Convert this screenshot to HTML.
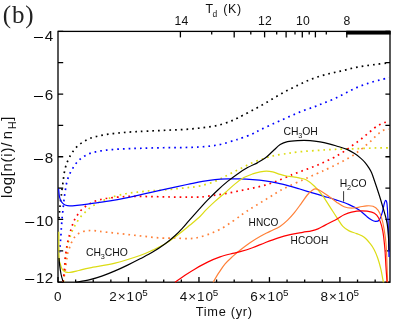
<!DOCTYPE html>
<html><head><meta charset="utf-8"><title>plot</title>
<style>
html,body{margin:0;padding:0;background:#fff;}
body{width:399px;height:323px;position:relative;overflow:hidden;font-family:"Liberation Sans",sans-serif;color:#111;}
.t{position:absolute;white-space:nowrap;line-height:1;font-size:14.5px;letter-spacing:0.3px;}
.m{display:inline-block;width:9.2px;height:1.1px;background:#000;vertical-align:0.205em;margin-right:2.1px;}
.yl{font-size:15.2px;letter-spacing:0.3px;}
#w{position:absolute;left:0;top:0;width:399px;height:323px;will-change:transform;transform:translateZ(0);}
.c{transform:translateX(-50%);}
.xl{top:289.5px;font-size:13.5px;letter-spacing:0.9px;}
.xl sup{font-size:73%;vertical-align:0.44em;margin-left:-1.1px;letter-spacing:0;}
.tl{top:15.2px;font-size:12.2px;letter-spacing:0.2px;}
.r{transform:translateX(-100%);}
.s{font-size:10.4px;letter-spacing:0;}
sub,sup{font-size:68%;line-height:0;}
sub{vertical-align:-0.28em;}
.s sub{vertical-align:-0.42em;font-size:70%;margin-left:-0.3px;}
sup{vertical-align:0.5em;}
</style></head><body><div id="w">
<svg width="399" height="323" viewBox="0 0 399 323" style="position:absolute;left:0;top:0">
<defs><clipPath id="c"><rect x="57.5" y="30.9" width="333.0" height="251.8"/></clipPath></defs>
<g stroke="#000" stroke-width="1.3" fill="none">
<rect x="58.0" y="31.4" width="332.0" height="250.8"/>
<path d="M58.0,31.35h5.2M390.0,31.35h-4.6"/>
<path d="M58.0,62.70h5.2M390.0,62.70h-4.6"/>
<path d="M58.0,94.05h5.2M390.0,94.05h-4.6"/>
<path d="M58.0,125.40h5.2M390.0,125.40h-4.6"/>
<path d="M58.0,156.75h5.2M390.0,156.75h-4.6"/>
<path d="M58.0,188.10h5.2M390.0,188.10h-4.6"/>
<path d="M58.0,219.45h5.2M390.0,219.45h-4.6"/>
<path d="M58.0,250.80h5.2M390.0,250.80h-4.6"/>
<path d="M58.0,282.15h5.2M390.0,282.15h-4.6"/>
<path d="M58.00,282.1v-5.0"/>
<path d="M75.62,282.1v-2.6"/>
<path d="M93.24,282.1v-2.6"/>
<path d="M110.86,282.1v-2.6"/>
<path d="M128.48,282.1v-5.0"/>
<path d="M146.10,282.1v-2.6"/>
<path d="M163.72,282.1v-2.6"/>
<path d="M181.34,282.1v-2.6"/>
<path d="M198.96,282.1v-5.0"/>
<path d="M216.58,282.1v-2.6"/>
<path d="M234.20,282.1v-2.6"/>
<path d="M251.82,282.1v-2.6"/>
<path d="M269.44,282.1v-5.0"/>
<path d="M287.06,282.1v-2.6"/>
<path d="M304.68,282.1v-2.6"/>
<path d="M322.30,282.1v-2.6"/>
<path d="M339.92,282.1v-5.0"/>
<path d="M357.54,282.1v-2.6"/>
<path d="M375.16,282.1v-2.6"/>
<path d="M180.40,31.4v6"/>
<path d="M234.20,31.4v6"/>
<path d="M264.60,31.4v6"/>
<path d="M286.10,31.4v6"/>
<path d="M302.30,31.4v6"/>
<path d="M315.40,31.4v6"/>
<path d="M346.80,31.4v6"/>
<path d="M211.70,31.4v3.2"/>
<path d="M250.80,31.4v3.2"/>
<path d="M276.70,31.4v3.2"/>
<path d="M295.00,31.4v3.2"/>
<path d="M309.20,31.4v3.2"/>
<path d="M326.30,31.4v3.2"/>
</g>
<rect x="346.3" y="30.75" width="44.35" height="3.8" fill="#000"/>
<g clip-path="url(#c)" fill="none">
<path d="M59.00,218.40C59.08,217.35 59.33,214.10 59.50,212.10C59.67,210.10 59.83,208.28 60.00,206.40C60.17,204.52 60.28,202.60 60.50,200.80C60.72,199.00 61.05,197.48 61.30,195.60C61.55,193.72 61.75,191.47 62.00,189.50C62.25,187.53 62.55,185.67 62.80,183.80C63.05,181.93 63.25,180.17 63.50,178.30C63.75,176.43 63.97,174.45 64.30,172.60C64.63,170.75 65.05,168.85 65.50,167.20C65.95,165.55 66.42,164.22 67.00,162.70C67.58,161.18 68.28,159.57 69.00,158.10C69.72,156.63 70.42,155.32 71.30,153.90C72.18,152.48 73.25,150.90 74.30,149.60C75.35,148.30 76.43,147.18 77.60,146.10C78.77,145.02 79.97,144.05 81.30,143.10C82.63,142.15 84.13,141.20 85.60,140.40C87.07,139.60 88.52,138.90 90.10,138.30C91.68,137.70 93.43,137.25 95.10,136.80C96.77,136.35 98.35,135.97 100.10,135.60C101.85,135.23 103.72,134.90 105.60,134.60C107.48,134.30 109.47,134.05 111.40,133.80C113.33,133.55 115.32,133.30 117.20,133.10C119.08,132.90 120.83,132.77 122.70,132.60C124.57,132.43 126.43,132.23 128.40,132.10C130.37,131.97 132.53,131.90 134.50,131.80C136.47,131.70 137.40,131.65 140.20,131.50C143.00,131.35 147.57,131.08 151.30,130.90C155.03,130.72 158.85,130.57 162.60,130.40C166.35,130.23 170.05,130.07 173.80,129.90C177.55,129.73 181.33,129.65 185.10,129.40C188.87,129.15 192.63,128.78 196.40,128.40C200.17,128.02 203.93,127.65 207.70,127.10C211.47,126.55 215.25,126.05 219.00,125.10C222.75,124.15 227.28,122.48 230.20,121.40C233.12,120.32 234.45,119.58 236.50,118.60C238.55,117.62 239.62,117.00 242.50,115.50C245.38,114.00 250.03,111.63 253.80,109.60C257.57,107.57 261.33,105.47 265.10,103.30C268.87,101.13 272.65,98.77 276.40,96.60C280.15,94.43 283.85,92.28 287.60,90.30C291.35,88.32 295.33,86.40 298.90,84.70C302.47,83.00 305.43,81.53 309.00,80.10C312.57,78.67 316.53,77.27 320.30,76.10C324.07,74.93 327.83,74.02 331.60,73.10C335.37,72.18 339.15,71.48 342.90,70.60C346.65,69.72 350.35,68.60 354.10,67.80C357.85,67.00 361.63,66.38 365.40,65.80C369.17,65.22 373.15,64.75 376.70,64.30C380.25,63.85 384.65,63.33 386.70,63.10C388.75,62.87 388.62,62.93 389.00,62.90" stroke="#000000" stroke-width="1.7" stroke-dasharray="1.7 4.0"/>
<path d="M59.40,252.50C59.48,251.63 59.73,249.10 59.90,247.30C60.07,245.50 60.23,243.62 60.40,241.70C60.57,239.78 60.77,237.68 60.90,235.80C61.03,233.92 61.08,232.23 61.20,230.40C61.32,228.57 61.47,226.67 61.60,224.80C61.73,222.93 61.83,221.12 62.00,219.20C62.17,217.28 62.40,215.23 62.60,213.30C62.80,211.37 63.00,209.50 63.20,207.60C63.40,205.70 63.60,203.73 63.80,201.90C64.00,200.07 64.15,198.45 64.40,196.60C64.65,194.75 65.00,192.73 65.30,190.80C65.60,188.87 65.82,186.88 66.20,185.00C66.58,183.12 67.07,181.23 67.60,179.50C68.13,177.77 68.67,176.23 69.40,174.60C70.13,172.97 71.07,171.35 72.00,169.70C72.93,168.05 73.95,166.17 75.00,164.70C76.05,163.23 77.13,162.08 78.30,160.90C79.47,159.72 80.67,158.57 82.00,157.60C83.33,156.63 84.82,155.85 86.30,155.10C87.78,154.35 89.35,153.63 90.90,153.10C92.45,152.57 93.93,152.27 95.60,151.90C97.27,151.53 99.10,151.20 100.90,150.90C102.70,150.60 104.52,150.32 106.40,150.10C108.28,149.88 110.32,149.77 112.20,149.60C114.08,149.43 115.83,149.22 117.70,149.10C119.57,148.98 121.52,148.98 123.40,148.90C125.28,148.82 127.12,148.68 129.00,148.60C130.88,148.52 132.23,148.47 134.70,148.40C137.17,148.33 140.42,148.28 143.80,148.20C147.18,148.12 151.25,147.98 155.00,147.90C158.75,147.82 162.53,147.73 166.30,147.70C170.07,147.67 173.83,147.75 177.60,147.70C181.37,147.65 185.13,147.53 188.90,147.40C192.67,147.27 196.45,147.15 200.20,146.90C203.95,146.65 207.65,146.40 211.40,145.90C215.15,145.40 218.93,144.82 222.70,143.90C226.47,142.98 231.12,141.28 234.00,140.40C236.88,139.52 236.88,139.70 240.00,138.60C243.12,137.50 249.37,135.25 252.70,133.80C256.03,132.35 257.10,131.33 260.00,129.90C262.90,128.47 266.75,126.73 270.10,125.20C273.45,123.67 276.55,122.28 280.10,120.70C283.65,119.12 287.63,117.33 291.40,115.70C295.17,114.07 298.93,112.37 302.70,110.90C306.47,109.43 310.65,108.15 314.00,106.90C317.35,105.65 319.45,104.73 322.80,103.40C326.15,102.07 330.33,100.62 334.10,98.90C337.87,97.18 341.65,94.98 345.40,93.10C349.15,91.22 352.85,89.22 356.60,87.60C360.35,85.98 364.13,84.65 367.90,83.40C371.67,82.15 376.07,80.95 379.20,80.10C382.33,79.25 385.07,78.68 386.70,78.30C388.33,77.92 388.62,77.88 389.00,77.80" stroke="#0000ff" stroke-width="1.7" stroke-dasharray="1.7 4.0"/>
<path d="M63.50,282.00C63.67,280.00 64.17,273.83 64.50,270.00C64.83,266.17 65.20,261.73 65.50,259.00C65.80,256.27 66.05,255.45 66.30,253.60C66.55,251.75 66.68,249.73 67.00,247.90C67.32,246.07 67.72,244.33 68.20,242.60C68.68,240.87 69.30,239.28 69.90,237.50C70.50,235.72 71.07,233.70 71.80,231.90C72.53,230.10 73.42,228.37 74.30,226.70C75.18,225.03 76.12,223.48 77.10,221.90C78.08,220.32 79.03,218.65 80.20,217.20C81.37,215.75 82.80,214.50 84.10,213.20C85.40,211.90 86.58,210.62 88.00,209.40C89.42,208.18 90.98,206.95 92.60,205.90C94.22,204.85 96.03,203.95 97.70,203.10C99.37,202.25 100.90,201.50 102.60,200.80C104.30,200.10 106.25,199.55 107.90,198.90C109.55,198.25 109.65,197.75 112.50,196.90C115.35,196.05 120.82,194.60 125.00,193.80C129.18,193.00 133.43,192.60 137.60,192.10C141.77,191.60 145.82,191.13 150.00,190.80C154.18,190.47 158.50,190.43 162.70,190.10C166.90,189.77 171.03,189.22 175.20,188.80C179.37,188.38 183.57,188.08 187.70,187.60C191.83,187.12 195.45,186.93 200.00,185.90C204.55,184.87 210.40,183.20 215.00,181.40C219.60,179.60 223.42,177.20 227.60,175.10C231.78,173.00 235.92,170.88 240.10,168.80C244.28,166.72 248.52,164.38 252.70,162.60C256.88,160.82 261.45,159.30 265.20,158.10C268.95,156.90 271.65,156.15 275.20,155.40C278.75,154.65 283.62,154.07 286.50,153.60C289.38,153.13 289.40,152.98 292.50,152.60C295.60,152.22 300.52,151.68 305.10,151.30C309.68,150.92 316.52,150.55 320.00,150.30C323.48,150.05 324.05,149.93 326.00,149.80C327.95,149.67 329.82,149.60 331.70,149.50C333.58,149.40 335.43,149.27 337.30,149.20C339.17,149.13 341.02,149.15 342.90,149.10C344.78,149.05 346.70,148.95 348.60,148.90C350.50,148.85 352.43,148.85 354.30,148.80C356.17,148.75 357.92,148.68 359.80,148.60C361.68,148.52 363.72,148.37 365.60,148.30C367.48,148.23 369.23,148.27 371.10,148.20C372.97,148.13 374.87,147.95 376.80,147.90C378.73,147.85 380.67,147.90 382.70,147.90C384.73,147.90 387.95,147.90 389.00,147.90" stroke="#dcdc14" stroke-width="1.7" stroke-dasharray="1.7 4.0"/>
<path d="M63.20,282.00C63.38,281.00 63.95,278.00 64.30,276.00C64.65,274.00 65.00,272.00 65.30,270.00C65.60,268.00 65.85,265.83 66.10,264.00C66.35,262.17 66.55,260.73 66.80,259.00C67.05,257.27 67.17,255.42 67.60,253.60C68.03,251.78 68.78,249.88 69.40,248.10C70.02,246.32 70.52,244.62 71.30,242.90C72.08,241.18 72.98,239.30 74.10,237.80C75.22,236.30 76.48,234.95 78.00,233.90C79.52,232.85 81.45,232.05 83.20,231.50C84.95,230.95 86.77,230.75 88.50,230.60C90.23,230.45 91.68,230.47 93.60,230.60C95.52,230.73 97.05,231.05 100.00,231.40C102.95,231.75 107.53,232.28 111.30,232.70C115.07,233.12 118.85,233.48 122.60,233.90C126.35,234.32 130.05,234.78 133.80,235.20C137.55,235.62 141.33,235.98 145.10,236.40C148.87,236.82 152.63,237.40 156.40,237.70C160.17,238.00 164.60,238.15 167.70,238.20C170.80,238.25 172.12,237.93 175.00,238.00C177.88,238.07 181.65,238.58 185.00,238.60C188.35,238.62 191.33,238.77 195.10,238.10C198.87,237.43 203.43,236.07 207.60,234.60C211.77,233.13 215.92,231.52 220.10,229.30C224.28,227.08 228.93,223.85 232.70,221.30C236.47,218.75 239.78,216.05 242.70,214.00C245.62,211.95 247.70,210.60 250.20,209.00C252.70,207.40 255.20,205.93 257.70,204.40C260.20,202.87 262.70,201.33 265.20,199.80C267.70,198.27 270.20,196.75 272.70,195.20C275.20,193.65 277.32,192.10 280.20,190.50C283.08,188.90 286.27,187.35 290.00,185.60C293.73,183.85 298.93,181.63 302.60,180.00C306.27,178.37 308.97,177.15 312.00,175.80C315.03,174.45 318.52,172.92 320.80,171.90C323.08,170.88 323.58,170.70 325.70,169.70C327.82,168.70 331.32,166.97 333.50,165.90C335.68,164.83 337.08,164.15 338.80,163.30C340.52,162.45 342.17,161.67 343.80,160.80C345.43,159.93 347.00,159.05 348.60,158.10C350.20,157.15 351.85,156.15 353.40,155.10C354.95,154.05 356.40,152.93 357.90,151.80C359.40,150.67 360.90,149.52 362.40,148.30C363.90,147.08 365.45,145.75 366.90,144.50C368.35,143.25 369.72,142.10 371.10,140.80C372.48,139.50 373.82,138.02 375.20,136.70C376.58,135.38 378.00,134.00 379.40,132.90C380.80,131.80 382.00,130.72 383.60,130.10C385.20,129.48 388.10,129.35 389.00,129.20" stroke="#ff8038" stroke-width="1.7" stroke-dasharray="1.7 4.0"/>
<path d="M62.90,281.70C63.03,280.77 63.47,278.02 63.70,276.10C63.93,274.18 64.10,272.10 64.30,270.20C64.50,268.30 64.77,266.57 64.90,264.70C65.03,262.83 64.95,260.85 65.10,259.00C65.25,257.15 65.55,255.45 65.80,253.60C66.05,251.75 66.28,249.82 66.60,247.90C66.92,245.98 67.30,243.97 67.70,242.10C68.10,240.23 68.55,238.48 69.00,236.70C69.45,234.92 69.88,233.20 70.40,231.40C70.92,229.60 71.48,227.70 72.10,225.90C72.72,224.10 73.32,222.27 74.10,220.60C74.88,218.93 75.75,217.52 76.80,215.90C77.85,214.28 79.10,212.37 80.40,210.90C81.70,209.43 83.15,208.23 84.60,207.10C86.05,205.97 87.53,205.02 89.10,204.10C90.67,203.18 92.25,202.32 94.00,201.60C95.75,200.88 97.78,200.30 99.60,199.80C101.42,199.30 102.75,198.97 104.90,198.60C107.05,198.23 109.15,197.93 112.50,197.60C115.85,197.27 120.82,196.82 125.00,196.60C129.18,196.38 133.43,196.30 137.60,196.30C141.77,196.30 145.82,196.52 150.00,196.60C154.18,196.68 158.50,196.72 162.70,196.80C166.90,196.88 171.03,197.05 175.20,197.10C179.37,197.15 184.15,197.10 187.70,197.10C191.25,197.10 194.03,197.13 196.50,197.10C198.97,197.07 199.42,197.22 202.50,196.90C205.58,196.58 210.82,195.82 215.00,195.20C219.18,194.58 223.42,193.95 227.60,193.20C231.78,192.45 235.92,191.55 240.10,190.70C244.28,189.85 248.52,189.03 252.70,188.10C256.88,187.17 261.03,186.32 265.20,185.10C269.37,183.88 273.70,182.35 277.70,180.80C281.70,179.25 286.43,176.95 289.20,175.80C291.97,174.65 292.57,174.57 294.30,173.90C296.03,173.23 297.82,172.47 299.60,171.80C301.38,171.13 303.22,170.55 305.00,169.90C306.78,169.25 308.50,168.57 310.30,167.90C312.10,167.23 314.00,166.62 315.80,165.90C317.60,165.18 319.33,164.40 321.10,163.60C322.87,162.80 324.45,162.03 326.40,161.10C328.35,160.17 330.93,158.97 332.80,158.00C334.67,157.03 335.97,156.23 337.60,155.30C339.23,154.37 340.97,153.43 342.60,152.40C344.23,151.37 345.85,150.20 347.40,149.10C348.95,148.00 350.40,146.88 351.90,145.80C353.40,144.72 354.90,143.68 356.40,142.60C357.90,141.52 359.40,140.48 360.90,139.30C362.40,138.12 363.90,136.75 365.40,135.50C366.90,134.25 368.40,133.05 369.90,131.80C371.40,130.55 372.90,129.12 374.40,128.00C375.90,126.88 377.37,125.98 378.90,125.10C380.43,124.22 381.92,123.23 383.60,122.70C385.28,122.17 388.10,122.03 389.00,121.90" stroke="#ff0000" stroke-width="1.7" stroke-dasharray="1.7 4.0"/>
<path d="M58.60,188.80C58.72,189.93 58.98,193.73 59.30,195.60C59.62,197.47 59.92,198.70 60.50,200.00C61.08,201.30 61.92,202.52 62.80,203.40C63.68,204.28 64.68,204.90 65.80,205.30C66.92,205.70 67.63,205.80 69.50,205.80C71.37,205.80 73.98,205.58 77.00,205.30C80.02,205.02 84.08,204.55 87.60,204.10C91.12,203.65 94.37,203.13 98.10,202.60C101.83,202.07 105.52,201.65 110.00,200.90C114.48,200.15 118.33,199.48 125.00,198.10C131.67,196.72 141.67,194.43 150.00,192.60C158.33,190.77 168.33,188.55 175.00,187.10C181.67,185.65 185.42,184.85 190.00,183.90C194.58,182.95 198.33,182.12 202.50,181.40C206.67,180.68 210.82,180.02 215.00,179.60C219.18,179.18 223.42,179.02 227.60,178.90C231.78,178.78 235.92,178.78 240.10,178.90C244.28,179.02 248.52,179.27 252.70,179.60C256.88,179.93 261.03,180.32 265.20,180.90C269.37,181.48 273.57,182.22 277.70,183.10C281.83,183.98 286.45,185.25 290.00,186.20C293.55,187.15 295.42,187.73 299.00,188.80C302.58,189.87 307.32,191.35 311.50,192.60C315.68,193.85 319.92,195.05 324.10,196.30C328.28,197.55 332.43,198.72 336.60,200.10C340.77,201.48 345.33,202.93 349.10,204.60C352.87,206.27 356.27,208.13 359.20,210.10C362.13,212.07 364.62,214.73 366.70,216.40C368.78,218.07 370.25,219.27 371.70,220.10C373.15,220.93 374.15,221.40 375.40,221.40C376.65,221.40 378.07,221.57 379.20,220.10C380.33,218.63 381.37,215.32 382.20,212.60C383.03,209.88 383.63,205.85 384.20,203.80C384.77,201.75 385.13,200.30 385.60,200.30C386.07,200.30 386.60,200.50 387.00,203.80C387.40,207.10 387.73,214.07 388.00,220.10C388.27,226.13 388.43,233.85 388.60,240.00C388.77,246.15 388.93,254.17 389.00,257.00" stroke="#0000ff" stroke-width="1.2" stroke-linejoin="round"/>
<path d="M58.80,231.70C58.82,234.75 58.82,245.25 58.90,250.00C58.98,254.75 59.08,257.93 59.30,260.20C59.52,262.47 59.85,262.40 60.20,263.60C60.55,264.80 60.88,266.25 61.40,267.40C61.92,268.55 62.57,269.72 63.30,270.50C64.03,271.28 64.67,271.78 65.80,272.10C66.93,272.42 67.93,272.67 70.10,272.40C72.27,272.13 75.48,271.27 78.80,270.50C82.12,269.73 83.97,269.03 90.00,267.80C96.03,266.57 106.67,265.15 115.00,263.10C123.33,261.05 133.72,257.67 140.00,255.50C146.28,253.33 148.50,252.05 152.70,250.10C156.90,248.15 161.03,246.32 165.20,243.80C169.37,241.28 173.57,238.13 177.70,235.00C181.83,231.87 186.28,228.08 190.00,225.00C193.72,221.92 197.28,219.05 200.00,216.50C202.72,213.95 203.80,212.22 206.30,209.70C208.80,207.18 211.87,204.23 215.00,201.40C218.13,198.57 221.75,195.62 225.10,192.70C228.45,189.78 231.97,186.42 235.10,183.90C238.23,181.38 240.97,179.27 243.90,177.60C246.83,175.93 249.98,174.85 252.70,173.90C255.42,172.95 257.92,172.37 260.20,171.90C262.48,171.43 264.32,171.10 266.40,171.10C268.48,171.10 270.40,171.35 272.70,171.90C275.00,172.45 277.90,173.72 280.20,174.40C282.50,175.08 284.53,175.62 286.50,176.00C288.47,176.38 289.92,176.38 292.00,176.70C294.08,177.02 296.58,177.35 299.00,177.90C301.42,178.45 303.92,178.60 306.50,180.00C309.08,181.40 311.88,183.78 314.50,186.30C317.12,188.82 319.68,191.77 322.20,195.10C324.72,198.43 327.15,202.55 329.60,206.30C332.05,210.05 334.68,214.25 336.90,217.60C339.12,220.95 340.87,224.18 342.90,226.40C344.93,228.62 346.82,229.70 349.10,230.90C351.38,232.10 354.08,232.55 356.60,233.60C359.12,234.65 361.90,235.48 364.20,237.20C366.50,238.92 368.73,241.82 370.40,243.90C372.07,245.98 372.98,247.35 374.20,249.70C375.42,252.05 376.60,254.80 377.70,258.00C378.80,261.20 379.93,265.28 380.80,268.90C381.67,272.52 382.45,277.47 382.90,279.70C383.35,281.93 383.40,281.87 383.50,282.30" stroke="#dcdc14" stroke-width="1.2" stroke-linejoin="round"/>
<path d="M213.10,282.30C214.07,280.70 216.90,275.77 218.90,272.70C220.90,269.63 222.80,266.62 225.10,263.90C227.40,261.18 230.22,258.68 232.70,256.40C235.18,254.12 237.12,252.48 240.00,250.20C242.88,247.92 246.67,245.00 250.00,242.70C253.33,240.40 256.67,238.28 260.00,236.40C263.33,234.52 266.67,233.07 270.00,231.40C273.33,229.73 277.07,228.28 280.00,226.40C282.93,224.52 285.20,222.40 287.60,220.10C290.00,217.80 292.17,215.32 294.40,212.60C296.63,209.88 298.85,206.73 301.00,203.80C303.15,200.87 305.42,197.27 307.30,195.00C309.18,192.73 310.88,191.22 312.30,190.20C313.72,189.18 314.45,188.82 315.80,188.90C317.15,188.98 318.42,189.60 320.40,190.70C322.38,191.80 325.00,193.58 327.70,195.50C330.40,197.42 333.87,200.32 336.60,202.20C339.33,204.08 341.60,205.82 344.10,206.80C346.60,207.78 349.08,208.05 351.60,208.10C354.12,208.15 356.68,207.48 359.20,207.10C361.72,206.72 364.40,205.93 366.70,205.80C369.00,205.67 371.12,205.58 373.00,206.30C374.88,207.02 376.58,208.22 378.00,210.10C379.42,211.98 380.50,214.52 381.50,217.60C382.50,220.68 383.22,223.87 384.00,228.60C384.78,233.33 385.60,237.05 386.20,246.00C386.80,254.95 387.37,276.25 387.60,282.30" stroke="#ff8038" stroke-width="1.2" stroke-linejoin="round"/>
<path d="M175.00,282.30C176.67,281.12 181.65,277.43 185.00,275.20C188.35,272.97 191.33,271.08 195.10,268.90C198.87,266.72 203.43,264.10 207.60,262.10C211.77,260.10 215.92,258.35 220.10,256.90C224.28,255.45 229.35,254.28 232.70,253.40C236.05,252.52 236.90,252.55 240.20,251.60C243.50,250.65 248.37,249.18 252.50,247.70C256.63,246.22 260.82,244.30 265.00,242.70C269.18,241.10 273.42,239.45 277.60,238.10C281.78,236.75 285.92,235.57 290.10,234.60C294.28,233.63 299.13,232.93 302.70,232.30C306.27,231.67 308.95,231.37 311.50,230.80C314.05,230.23 315.72,229.85 318.00,228.90C320.28,227.95 322.10,226.72 325.20,225.10C328.30,223.48 333.45,220.92 336.60,219.20C339.75,217.48 341.60,215.98 344.10,214.80C346.60,213.62 348.67,212.75 351.60,212.10C354.53,211.45 358.35,210.90 361.70,210.90C365.05,210.90 369.20,211.40 371.70,212.10C374.20,212.80 375.28,213.55 376.70,215.10C378.12,216.65 379.18,218.72 380.20,221.40C381.22,224.08 382.03,226.77 382.80,231.20C383.57,235.63 384.27,241.98 384.80,248.00C385.33,254.02 385.63,261.58 386.00,267.30C386.37,273.02 386.83,279.80 387.00,282.30" stroke="#ff0000" stroke-width="1.2" stroke-linejoin="round"/>
<path d="M59.00,258.00C59.12,259.27 59.37,262.93 59.70,265.60C60.03,268.27 60.50,271.53 61.00,274.00C61.50,276.47 62.20,278.98 62.70,280.40C63.20,281.82 63.78,282.15 64.00,282.50" stroke="#000000" stroke-width="1.2" stroke-linejoin="round"/>
<path d="M75.70,282.30C78.08,281.87 85.53,280.77 90.00,279.70C94.47,278.63 98.33,277.37 102.50,275.90C106.67,274.43 110.82,272.70 115.00,270.90C119.18,269.10 123.42,267.12 127.60,265.10C131.78,263.08 135.92,260.97 140.10,258.80C144.28,256.63 148.52,254.60 152.70,252.10C156.88,249.60 161.45,246.57 165.20,243.80C168.95,241.03 172.28,238.15 175.20,235.50C178.12,232.85 180.40,230.38 182.70,227.90C185.00,225.42 186.32,223.63 189.00,220.60C191.68,217.57 195.72,213.10 198.80,209.70C201.88,206.30 204.37,203.45 207.50,200.20C210.63,196.95 214.25,193.33 217.60,190.20C220.95,187.07 224.27,184.12 227.60,181.40C230.93,178.68 234.27,176.20 237.60,173.90C240.93,171.60 244.25,169.48 247.60,167.60C250.95,165.72 254.77,164.18 257.70,162.60C260.63,161.02 262.70,159.98 265.20,158.10C267.70,156.22 270.20,153.55 272.70,151.30C275.20,149.05 277.73,146.22 280.20,144.60C282.67,142.98 284.62,142.27 287.50,141.60C290.38,140.93 293.73,140.77 297.50,140.60C301.27,140.43 306.35,140.40 310.10,140.60C313.85,140.80 316.85,141.27 320.00,141.80C323.15,142.33 326.00,143.02 329.00,143.80C332.00,144.58 334.98,145.57 338.00,146.50C341.02,147.43 344.33,148.22 347.10,149.40C349.87,150.58 352.35,152.15 354.60,153.60C356.85,155.05 358.85,156.60 360.60,158.10C362.35,159.60 363.72,160.97 365.10,162.60C366.48,164.23 367.83,166.23 368.90,167.90C369.97,169.57 370.62,170.58 371.50,172.60C372.38,174.62 372.92,176.27 374.20,180.00C375.48,183.73 377.73,190.40 379.20,195.00C380.67,199.60 381.95,204.03 383.00,207.60C384.05,211.17 384.80,213.68 385.50,216.40C386.20,219.12 386.72,220.80 387.20,223.90C387.68,227.00 388.10,230.65 388.40,235.00C388.70,239.35 388.90,247.50 389.00,250.00" stroke="#000000" stroke-width="1.2" stroke-linejoin="round"/>
</g>
<path d="M343.6,191.2V201.5" stroke="#000" stroke-width="0.8"/>
</svg>
<div class="t" style="left:2.8px;top:2.0px;font-family:'Liberation Serif',serif;font-size:25px;letter-spacing:0.8px;color:#222;">(b)</div>
<div class="t r yl" style="left:53.5px;top:28.3px;"><span class="m"></span>4</div>
<div class="t r yl" style="left:53.5px;top:87.3px;"><span class="m"></span>6</div>
<div class="t r yl" style="left:53.5px;top:150.0px;"><span class="m"></span>8</div>
<div class="t r yl" style="left:53.5px;top:212.8px;"><span class="m"></span>10</div>
<div class="t r yl" style="left:53.5px;top:270.0px;"><span class="m"></span>12</div>
<div class="t c xl" style="left:58.2px;">0</div>
<div class="t c xl" style="left:128.5px;">2&times;10<sup>5</sup></div>
<div class="t c xl" style="left:199.0px;">4&times;10<sup>5</sup></div>
<div class="t c xl" style="left:269.4px;">6&times;10<sup>5</sup></div>
<div class="t c xl" style="left:339.8px;">8&times;10<sup>5</sup></div>
<div class="t c" style="left:224.2px;top:305.5px;letter-spacing:0.7px;font-size:12.8px;">Time (yr)</div>
<div class="t c" style="left:223.6px;top:2.9px;letter-spacing:0.7px;font-size:12.4px;">T<sub style="vertical-align:-0.46em;margin-left:-1.2px;margin-right:1.2px;">d</sub> (K)</div>
<div class="t c tl" style="left:181.5px;">14</div>
<div class="t c tl" style="left:265px;">12</div>
<div class="t c tl" style="left:303px;">10</div>
<div class="t c tl" style="left:347px;">8</div>
<div class="t" style="left:-0.8px;top:197.6px;transform-origin:0 0;transform:rotate(-90deg);letter-spacing:0.6px;font-size:15px;">log[n<span style="letter-spacing:0.8px">(i)<span style="letter-spacing:3.3px">/</span><span style="letter-spacing:1.6px">n</span></span><sub style="vertical-align:-0.40em;font-size:72%;margin-left:0.2px;">H</sub>]</div>
<div class="t s" style="left:283.5px;top:127.3px;">CH<sub>3</sub>OH</div>
<div class="t s" style="left:339.8px;top:178.5px;">H<sub>2</sub>CO</div>
<div class="t s" style="left:248.6px;top:217.9px;font-size:10.1px;">HNCO</div>
<div class="t s" style="left:290.6px;top:235.6px;font-size:10.1px;">HCOOH</div>
<div class="t s" style="left:86px;top:248.3px;">CH<sub>3</sub>CHO</div>
</div></body></html>
